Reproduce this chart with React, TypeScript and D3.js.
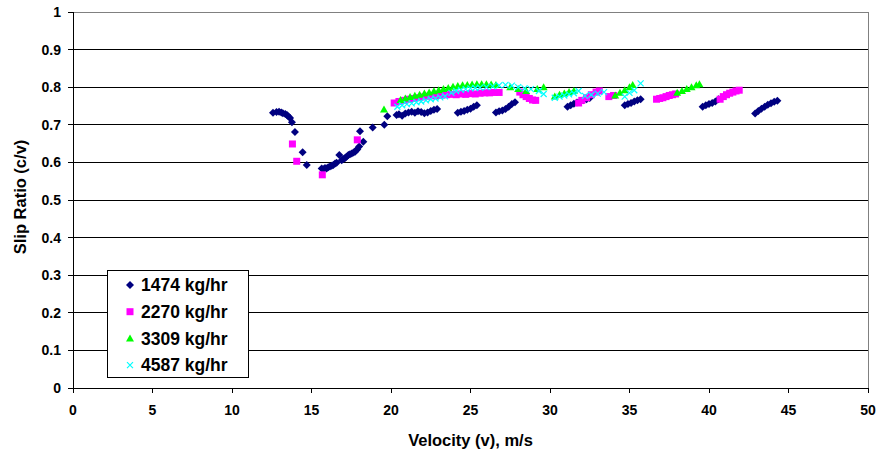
import React from 'react';
import * as d3 from 'd3';

// velocity (m/s) and slip ratio (c/v), one pair of arrays per flow rate
const v1474 = [12.58, 12.8, 12.96, 13.1, 13.2, 13.35, 13.46, 13.55, 13.65, 13.77, 13.96, 14.44, 14.7,
  15.64, 15.74, 15.85, 15.95, 16.05, 16.16, 16.27, 16.37, 16.48, 16.58, 16.75, 16.9, 17.0, 17.1, 17.2, 17.32,
  17.42, 17.53, 17.64, 17.74, 17.82, 17.88, 18.0, 18.05, 18.26, 18.85, 19.58, 19.77,
  20.35, 20.5, 20.7, 20.9, 21.1, 21.3, 21.5, 21.7, 21.9, 22.1, 22.3, 22.5, 22.7, 22.9,
  24.2, 24.4, 24.6, 24.8, 25.0, 25.2, 25.4,
  26.6, 26.8, 27.0, 27.2, 27.4, 27.6, 27.8,
  31.1, 31.3, 31.5, 31.7, 31.9, 32.1, 32.3, 32.5,
  34.7, 34.9, 35.1, 35.3, 35.5, 35.7,
  39.6, 39.8, 40.0, 40.2, 40.4, 40.6,
  42.9, 43.1, 43.3, 43.5, 43.7, 43.9, 44.1, 44.3];
const r1474 = [0.732, 0.734, 0.735, 0.733, 0.731, 0.729, 0.726, 0.722, 0.718, 0.707, 0.681, 0.627, 0.593,
  0.584, 0.582, 0.585, 0.584, 0.587, 0.589, 0.591, 0.593, 0.597, 0.599, 0.62, 0.606, 0.609, 0.611, 0.615, 0.62,
  0.622, 0.624, 0.626, 0.628, 0.632, 0.635, 0.642, 0.683, 0.655, 0.693, 0.7, 0.723,
  0.726, 0.728, 0.724, 0.73, 0.733, 0.735, 0.732, 0.736, 0.734, 0.731, 0.733, 0.737, 0.74, 0.742,
  0.732, 0.735, 0.737, 0.74, 0.743, 0.748, 0.752,
  0.733, 0.736, 0.738, 0.742, 0.748, 0.755, 0.76,
  0.748, 0.752, 0.756, 0.759, 0.762, 0.765, 0.768, 0.771,
  0.752, 0.755, 0.758, 0.762, 0.765, 0.768,
  0.748, 0.752, 0.755, 0.758, 0.762, 0.768,
  0.73, 0.737, 0.743, 0.748, 0.753, 0.757, 0.761, 0.764];

const v2270 = [13.8, 14.07, 15.68, 17.88,
  20.2, 20.5, 20.8, 21.1, 21.4, 21.7, 22.0, 22.3, 22.6, 22.9, 23.2, 23.5, 23.8, 24.1, 24.4, 24.7, 25.0,
  25.3, 25.6, 25.9, 26.2, 26.5, 26.8,
  28.1, 28.3, 28.5, 28.7, 28.9, 29.1,
  31.8, 32.0, 32.3, 32.6, 32.9, 33.1, 33.7, 34.0,
  36.7, 36.9, 37.1, 37.3, 37.5, 37.7, 37.9,
  40.7, 40.9, 41.1, 41.3, 41.5, 41.7, 41.9];
const r2270 = [0.649, 0.603, 0.567, 0.66,
  0.758, 0.762, 0.765, 0.768, 0.77, 0.772, 0.774, 0.776, 0.777, 0.778, 0.779, 0.78, 0.781, 0.78, 0.782, 0.781, 0.783,
  0.782, 0.784, 0.785, 0.785, 0.786, 0.786,
  0.787, 0.78, 0.775, 0.77, 0.766, 0.765,
  0.758, 0.765, 0.772, 0.78, 0.787, 0.79, 0.775, 0.778,
  0.768, 0.77, 0.772, 0.775, 0.778, 0.78, 0.782,
  0.768, 0.775, 0.78, 0.784, 0.787, 0.79, 0.792];

const v3309 = [19.56,
  20.6, 20.9, 21.2, 21.5, 21.8, 22.1, 22.4, 22.7, 23.0, 23.3, 23.6, 23.9, 24.2, 24.5, 24.8, 25.1, 25.4,
  25.7, 26.0, 26.3, 26.6,
  27.5, 28.0, 28.5, 29.2, 29.6,
  30.3, 30.6, 30.9, 31.2, 31.5,
  34.1, 34.4, 34.7, 35.0, 35.2,
  38.0, 38.3, 38.6, 38.9, 39.2, 39.4];
const r3309 = [0.741,
  0.766, 0.77, 0.774, 0.777, 0.78, 0.783, 0.786, 0.789, 0.792, 0.795, 0.798, 0.801, 0.803, 0.805, 0.806, 0.807, 0.808,
  0.808, 0.808, 0.807, 0.806,
  0.8, 0.795, 0.79, 0.795, 0.8,
  0.775, 0.78, 0.783, 0.787, 0.79,
  0.778, 0.785, 0.792, 0.8, 0.806,
  0.785, 0.79, 0.795, 0.8, 0.805, 0.808];

const v4587 = [20.4, 20.7, 21.0, 21.3, 21.6, 21.9, 22.2, 22.5, 22.8, 23.1, 23.4, 23.8, 24.1, 24.4, 24.7, 25.0,
  25.3, 25.6, 26.0, 26.4, 26.8, 27.2, 27.6, 28.0, 28.4, 28.8, 29.3, 29.6,
  30.3, 30.6, 30.9, 31.2, 31.5, 31.8,
  32.2, 32.6, 33.0, 33.4,
  34.7, 35.0, 35.3, 35.7];
const r4587 = [0.748, 0.752, 0.755, 0.757, 0.76, 0.762, 0.765, 0.768, 0.77, 0.773, 0.776, 0.785, 0.79, 0.793, 0.795, 0.797,
  0.798, 0.799, 0.8, 0.802, 0.805, 0.806, 0.804, 0.8, 0.797, 0.795, 0.79, 0.782,
  0.772, 0.775, 0.778, 0.781, 0.784, 0.79,
  0.777, 0.78, 0.783, 0.787,
  0.775, 0.785, 0.792, 0.81];

const seriesNames = ['1474 kg/hr', '2270 kg/hr', '3309 kg/hr', '4587 kg/hr'];
const xTicks = [0, 5, 10, 15, 20, 25, 30, 35, 40, 45, 50];
const yTicks = [0, 0.1, 0.2, 0.3, 0.4, 0.5, 0.6, 0.7, 0.8, 0.9, 1];

const FONT = '"Liberation Sans", Arial, sans-serif';

// marker drawing per series
const Marker = ({ kind, x, y }: { kind: number; x: number; y: number }) => {
  if (kind === 0) {
    return <path d={`M${x},${y - 4}L${x + 4},${y}L${x},${y + 4}L${x - 4},${y}Z`} fill="#000080" />;
  }
  if (kind === 1) {
    return <rect x={x - 3.5} y={y - 3.5} width={7} height={7} fill="#FF00FF" />;
  }
  if (kind === 2) {
    return <path d={`M${x},${y - 4}L${x + 4},${y + 3}L${x - 4},${y + 3}Z`} fill="#00FF00" />;
  }
  return (
    <path d={`M${x - 3},${y - 3}L${x + 3},${y + 3}M${x - 3},${y + 3}L${x + 3},${y - 3}`}
      stroke="#00FFFF" strokeWidth={1.2} fill="none" />
  );
};

export default function App() {
  const width = 881;
  const height = 456;
  const margin = { top: 12, right: 13, bottom: 68, left: 73 };

  const x = d3.scaleLinear().domain([0, 50]).range([margin.left, width - margin.right]);
  const y = d3.scaleLinear().domain([0, 1]).range([height - margin.bottom, margin.top]);

  const series = [
    d3.zip(v1474, r1474),
    d3.zip(v2270, r2270),
    d3.zip(v3309, r3309),
    d3.zip(v4587, r4587),
  ];

  const legendX = 107;
  const legendY = 270;

  return (
    <svg width={width} height={height} style={{ position: 'absolute', left: 0, top: 0, background: '#fff' }}
      fontFamily={FONT}>
      {/* gridlines */}
      {yTicks.slice(1, -1).map((t) => (
        <line key={t} x1={x(0)} x2={x(50)} y1={y(t)} y2={y(t)} stroke="#000" strokeWidth={1} shapeRendering="crispEdges" />
      ))}
      {/* plot area border */}
      <line x1={x(0)} x2={x(50)} y1={y(1)} y2={y(1)} stroke="#808080" shapeRendering="crispEdges" />
      <line x1={x(50)} x2={x(50)} y1={y(1)} y2={y(0)} stroke="#808080" shapeRendering="crispEdges" />

      {/* axes */}
      <line x1={x(0)} x2={x(0)} y1={y(1)} y2={y(0)} stroke="#000" shapeRendering="crispEdges" />
      <line x1={x(0)} x2={x(50)} y1={y(0)} y2={y(0)} stroke="#000" shapeRendering="crispEdges" />
      {yTicks.map((t) => (
        <g key={t}>
          <line x1={x(0) - 5} x2={x(0)} y1={y(t)} y2={y(t)} stroke="#000" shapeRendering="crispEdges" />
          <text x={x(0) - 12} y={y(t)} dy="0.35em" textAnchor="end" fontSize={14} fontWeight="bold">
            {t}
          </text>
        </g>
      ))}
      {xTicks.map((t) => (
        <g key={t}>
          <line x1={x(t)} x2={x(t)} y1={y(0)} y2={y(0) + 5} stroke="#000" shapeRendering="crispEdges" />
          <text x={x(t)} y={y(0) + 22} dy="0.35em" textAnchor="middle" fontSize={14} fontWeight="bold">
            {t}
          </text>
        </g>
      ))}

      {/* data */}
      {series.map((pts, i) => (
        <g key={i}>
          {pts.map(([v, r], j) => (
            <Marker key={j} kind={i} x={x(v)} y={y(r)} />
          ))}
        </g>
      ))}

      {/* axis titles */}
      <text x={(x(0) + x(50)) / 2} y={440} textAnchor="middle" fontSize={16.5} fontWeight="bold" dy="0.35em">
        Velocity (v), m/s
      </text>
      <text transform={`translate(20,${(y(0) + y(1)) / 2 - 3}) rotate(-90)`} textAnchor="middle" fontSize={16.5}
        fontWeight="bold" dy="0.35em">
        Slip Ratio (c/v)
      </text>

      {/* legend */}
      <rect x={legendX} y={legendY} width={141} height={107} fill="#fff" stroke="#000" shapeRendering="crispEdges" />
      {seriesNames.map((name, i) => (
        <g key={name}>
          <Marker kind={i} x={legendX + 23} y={legendY + 15 + i * 26.7} />
          <text x={legendX + 34} y={legendY + 15 + i * 26.7} dy="0.35em" fontSize={17.5} fontWeight="bold">
            {name}
          </text>
        </g>
      ))}
    </svg>
  );
}
